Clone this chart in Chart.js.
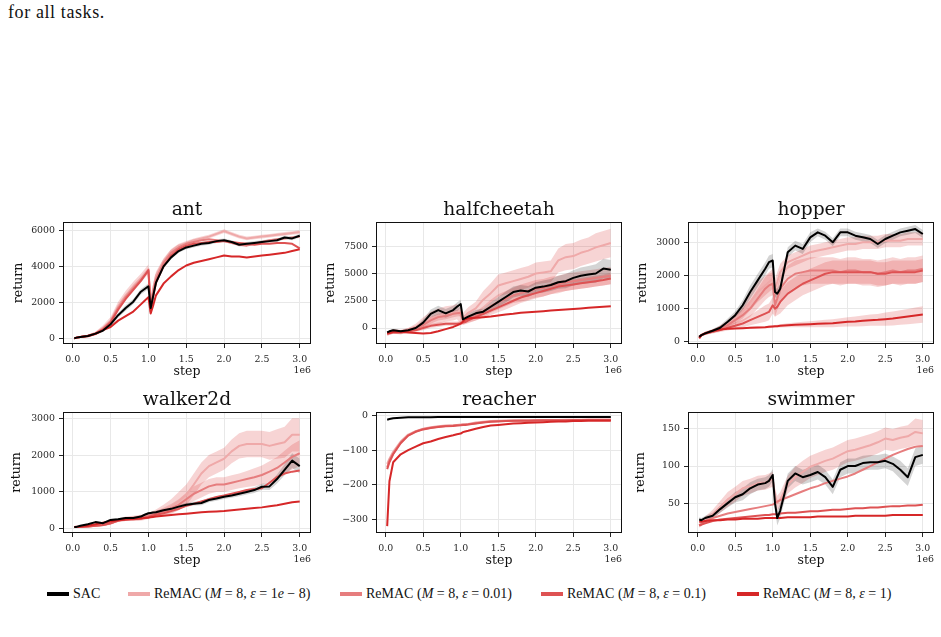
<!DOCTYPE html>
<html>
<head>
<meta charset="utf-8">
<script src="https://cdn.jsdelivr.net/npm/chart.js@4.4.0/dist/chart.umd.min.js"></script>
<style>
  body { margin: 0; background: #fff; width: 941px; height: 637px; position: relative; overflow: hidden; }
  canvas.plot { position: absolute; }
  #caption { position: absolute; left: 8px; top: 2px; font: 18px "Liberation Serif", serif; letter-spacing: 0.6px; color: #111; }
  .lg { position: absolute; top: 585px; height: 18px; display: flex; align-items: center; font: 14px "Liberation Serif", serif; color: #111; white-space: nowrap; }
  .lg .sw { display: inline-block; width: 22px; height: 4px; margin-right: 4px; }
</style>
</head>
<body>
<div id="caption">for all tasks.</div>
<canvas id="ant" class="plot"></canvas>
<canvas id="halfcheetah" class="plot"></canvas>
<canvas id="hopper" class="plot"></canvas>
<canvas id="walker2d" class="plot"></canvas>
<canvas id="reacher" class="plot"></canvas>
<canvas id="swimmer" class="plot"></canvas>
<div id="legend"></div>
<script>
// environment steps, in units of 1e6
const steps = [0.02, 0.05, 0.1, 0.2, 0.3, 0.4, 0.5, 0.6, 0.7, 0.8, 0.9, 0.95, 1.0, 1.03, 1.06,
               1.1, 1.2, 1.3, 1.4, 1.5, 1.6, 1.7, 1.8, 1.9, 2.0, 2.1, 2.2, 2.3, 2.4, 2.5,
               2.6, 2.7, 2.8, 2.9, 3.0];
const xTicks = [0, 0.5, 1.0, 1.5, 2.0, 2.5, 3.0];

const seriesLabels = ['SAC', 'ReMAC (M=8, ε=1e−8)', 'ReMAC (M=8, ε=0.01)', 'ReMAC (M=8, ε=0.1)', 'ReMAC (M=8, ε=1)'];
const legendHtml = ['SAC',
  'ReMAC (<i>M</i> = 8, <i>ε</i> = 1<i>e</i> − 8)',
  'ReMAC (<i>M</i> = 8, <i>ε</i> = 0.01)',
  'ReMAC (<i>M</i> = 8, <i>ε</i> = 0.1)',
  'ReMAC (<i>M</i> = 8, <i>ε</i> = 1)'];

// ant
const antSac    = [20, 60, 100, 150, 280, 450, 800, 1300, 1700, 2050, 2600, 2750, 2900, 1700, 2300, 3100, 4000, 4500, 4850, 5050, 5150, 5250, 5300, 5400, 5450, 5350, 5200, 5250, 5300, 5350, 5400, 5450, 5600, 5550, 5700];
const antEps1e8 = [20, 60, 100, 170, 300, 600, 1000, 1800, 2400, 2900, 3350, 3600, 3850, 2000, 2700, 3500, 4300, 4850, 5150, 5300, 5450, 5550, 5650, 5800, 5950, 5800, 5650, 5550, 5600, 5650, 5700, 5750, 5800, 5850, 5900];
const antEps001 = [20, 60, 100, 160, 290, 550, 950, 1700, 2300, 2800, 3250, 3500, 3750, 1800, 2500, 3300, 4200, 4750, 5050, 5250, 5350, 5450, 5500, 5450, 5400, 5300, 5200, 5150, 5250, 5350, 5450, 5500, 5550, 5600, 5650];
const antEps01  = [20, 60, 100, 160, 280, 500, 900, 1600, 2200, 2700, 3200, 3500, 3800, 1500, 2300, 3100, 4000, 4600, 4950, 5150, 5250, 5300, 5350, 5350, 5400, 5350, 5300, 5250, 5200, 5250, 5250, 5300, 5300, 5250, 5000];
const antEps1   = [20, 60, 100, 140, 260, 480, 650, 1000, 1250, 1500, 1900, 2100, 2300, 1400, 1800, 2400, 3050, 3450, 3800, 4050, 4200, 4300, 4400, 4500, 4600, 4550, 4550, 4500, 4550, 4600, 4650, 4700, 4750, 4850, 4950];
const antSdSac    = [20, 20, 30, 40, 60, 80, 100, 120, 150, 150, 150, 150, 150, 200, 200, 150, 120, 100, 100, 100, 100, 100, 100, 100, 100, 100, 100, 100, 100, 100, 100, 100, 100, 100, 100];
const antSdEps1e8 = [20, 20, 30, 50, 80, 150, 200, 250, 250, 250, 250, 250, 250, 300, 300, 200, 150, 120, 100, 100, 100, 100, 100, 100, 100, 100, 100, 100, 100, 100, 100, 100, 100, 100, 100];
const antTicks = [0, 2000, 4000, 6000];

// halfcheetah
const hcSac    = [-400, -300, -200, -300, -200, 0, 500, 1300, 1650, 1350, 1650, 1950, 2200, 800, 900, 1050, 1350, 1500, 1950, 2400, 2850, 3300, 3450, 3350, 3700, 3800, 3950, 4200, 4300, 4600, 4800, 4900, 5000, 5450, 5350];
const hcEps1e8 = [-500, -450, -300, -400, -200, 100, 500, 900, 1100, 1300, 1400, 1500, 1100, 900, 1100, 1400, 1800, 2600, 3200, 3900, 4100, 4300, 4500, 4700, 5000, 5100, 5200, 6200, 6500, 6600, 6900, 7100, 7400, 7600, 7800];
const hcEps001 = [-500, -450, -300, -350, -200, 0, 300, 700, 1000, 1100, 1300, 1350, 1400, 600, 700, 800, 1100, 1500, 2000, 2400, 2700, 3000, 3200, 3400, 3600, 3700, 3900, 4000, 4200, 4300, 4400, 4500, 4600, 4700, 4800];
const hcEps01  = [-500, -450, -400, -400, -300, -200, 0, 200, 300, 400, 400, 400, 450, 500, 550, 700, 1000, 1300, 1600, 1900, 2200, 2500, 2800, 3000, 3200, 3400, 3600, 3800, 3900, 4000, 4100, 4200, 4300, 4400, 4550];
const hcEps1   = [-500, -450, -350, -350, -400, -450, -500, -450, -300, -100, 100, 250, 400, 600, 800, 900, 950, 1000, 1050, 1150, 1250, 1300, 1400, 1450, 1500, 1550, 1600, 1650, 1700, 1750, 1800, 1850, 1900, 1950, 2000];
const hcSdSac    = [100, 100, 100, 100, 100, 150, 300, 400, 400, 400, 400, 400, 400, 300, 300, 300, 300, 300, 400, 450, 500, 500, 500, 500, 500, 550, 550, 600, 650, 700, 750, 800, 850, 900, 900];
const hcSdEps1e8 = [200, 200, 200, 200, 200, 300, 500, 600, 700, 700, 700, 700, 700, 500, 500, 500, 600, 800, 900, 1000, 1000, 1000, 1000, 1000, 1000, 1000, 1000, 1100, 1200, 1200, 1200, 1200, 1300, 1300, 1300];
const hcSdEps001 = [200, 200, 200, 200, 200, 200, 300, 300, 300, 300, 300, 300, 300, 300, 300, 300, 400, 500, 600, 700, 700, 700, 800, 800, 800, 800, 800, 800, 800, 800, 800, 800, 800, 800, 800];
const hcSdEps01  = [150, 150, 150, 150, 150, 150, 200, 200, 200, 200, 200, 200, 200, 200, 200, 250, 300, 350, 400, 450, 500, 500, 500, 500, 500, 500, 500, 500, 500, 500, 500, 500, 500, 500, 500];
const hcTicks = [0, 2500, 5000, 7500];

// hopper
const hopSac    = [150, 200, 250, 330, 420, 600, 800, 1100, 1500, 1850, 2200, 2400, 2450, 1500, 1450, 1600, 2700, 2900, 2800, 3150, 3300, 3200, 3000, 3300, 3300, 3200, 3150, 3100, 2950, 3100, 3200, 3300, 3350, 3400, 3250];
const hopEps1e8 = [150, 200, 250, 320, 400, 550, 700, 900, 1200, 1500, 1700, 1800, 1900, 1600, 1800, 2100, 2400, 2500, 2600, 2700, 2750, 2800, 2850, 2900, 2950, 2950, 3000, 3000, 3000, 3050, 3050, 3050, 3100, 3100, 3100];
const hopEps001 = [150, 200, 250, 320, 400, 500, 650, 800, 1000, 1300, 1600, 1700, 1750, 1100, 1300, 1600, 1900, 2050, 2100, 2150, 2150, 2150, 2150, 2100, 2150, 2150, 2100, 2100, 2050, 2100, 2150, 2100, 2150, 2150, 2200];
const hopEps01  = [130, 200, 250, 300, 350, 420, 480, 550, 650, 750, 850, 900, 1100, 1000, 1050, 1200, 1450, 1600, 1750, 1850, 1950, 2050, 2100, 2100, 2100, 2100, 2100, 2100, 2050, 2050, 2100, 2100, 2100, 2100, 2150];
const hopEps1   = [100, 200, 250, 330, 370, 390, 400, 410, 420, 430, 440, 450, 460, 465, 470, 480, 500, 510, 520, 530, 540, 550, 560, 580, 600, 610, 630, 650, 660, 680, 700, 730, 760, 790, 820];
const hopSdSac    = [40, 40, 50, 50, 80, 100, 120, 150, 200, 200, 200, 200, 200, 150, 150, 150, 150, 150, 150, 150, 120, 120, 120, 120, 120, 120, 120, 120, 120, 120, 120, 120, 120, 120, 120];
const hopSdEps1e8 = [40, 40, 50, 50, 80, 100, 150, 200, 250, 300, 300, 300, 300, 300, 300, 250, 200, 200, 200, 200, 200, 200, 200, 200, 200, 200, 200, 200, 200, 200, 200, 200, 200, 200, 200];
const hopSdEps001 = [40, 40, 50, 50, 80, 100, 150, 200, 250, 300, 350, 350, 350, 350, 350, 400, 400, 400, 400, 400, 400, 400, 400, 400, 400, 400, 400, 400, 400, 400, 400, 400, 400, 400, 400];
const hopSdEps01  = [30, 30, 40, 50, 60, 80, 100, 120, 150, 200, 250, 250, 250, 250, 250, 350, 350, 350, 350, 350, 350, 350, 350, 350, 350, 350, 350, 350, 350, 350, 350, 350, 350, 350, 350];
const hopSdEps1   = [20, 20, 20, 20, 20, 20, 20, 20, 30, 30, 30, 40, 40, 40, 40, 50, 60, 70, 80, 90, 100, 110, 120, 130, 140, 150, 160, 170, 180, 200, 210, 220, 230, 240, 250];
const hopTicks = [0, 1000, 2000, 3000];

// walker2d
const wkSac    = [50, 50, 80, 120, 180, 150, 240, 260, 290, 290, 330, 380, 420, 430, 440, 450, 500, 540, 600, 650, 680, 700, 780, 820, 870, 900, 950, 1000, 1050, 1140, 1150, 1350, 1600, 1850, 1700];
const wkEps1e8 = [50, 50, 50, 60, 80, 100, 150, 230, 270, 280, 300, 320, 350, 380, 400, 420, 500, 600, 750, 920, 1200, 1500, 1700, 1800, 1900, 2100, 2250, 2300, 2300, 2300, 2250, 2300, 2350, 2550, 2550];
const wkEps001 = [50, 50, 50, 60, 80, 100, 150, 220, 260, 280, 300, 320, 350, 370, 390, 410, 470, 550, 650, 800, 950, 1050, 1150, 1200, 1200, 1250, 1300, 1350, 1400, 1460, 1550, 1650, 1800, 1950, 2050];
const wkEps01  = [50, 50, 50, 60, 80, 100, 150, 220, 250, 260, 280, 300, 320, 340, 360, 380, 420, 480, 540, 620, 680, 740, 800, 860, 900, 950, 1000, 1050, 1080, 1100, 1250, 1400, 1500, 1550, 1580];
const wkEps1   = [50, 55, 60, 80, 120, 160, 200, 230, 250, 270, 280, 290, 300, 310, 320, 330, 350, 370, 390, 410, 430, 450, 460, 470, 480, 500, 520, 540, 560, 580, 610, 640, 680, 720, 740];
const wkSdSac    = [10, 10, 10, 20, 20, 30, 30, 30, 30, 30, 30, 30, 30, 30, 30, 40, 40, 40, 50, 50, 50, 60, 60, 60, 60, 60, 70, 70, 80, 80, 100, 120, 150, 200, 200];
const wkSdEps1e8 = [10, 10, 10, 10, 20, 30, 40, 50, 60, 70, 80, 80, 80, 80, 80, 100, 150, 200, 250, 280, 300, 300, 300, 300, 300, 320, 340, 360, 360, 360, 380, 400, 420, 450, 450];
const wkSdEps001 = [10, 10, 10, 10, 10, 20, 30, 40, 50, 60, 60, 60, 60, 60, 60, 80, 100, 120, 150, 180, 200, 200, 200, 200, 200, 200, 200, 220, 240, 260, 280, 300, 320, 340, 350];
const wkTicks = [0, 1000, 2000, 3000];

// reacher
const rcSac    = [-12, -10, -8, -6, -5, -5, -5, -5, -4, -4, -4, -4, -4, -4, -4, -4, -4, -4, -4, -4, -4, -4, -4, -4, -4, -4, -4, -4, -4, -4, -4, -4, -4, -4, -4];
const rcEps1e8 = [-140, -125, -105, -75, -55, -45, -38, -34, -31, -29, -28, -27, -26, -26, -25, -24, -20, -18, -16, -15, -15, -14, -14, -14, -13, -13, -13, -13, -12, -12, -12, -12, -12, -12, -12];
const rcEps001 = [-150, -130, -110, -78, -57, -46, -39, -35, -32, -30, -29, -28, -27, -26, -26, -25, -22, -19, -17, -16, -15, -15, -14, -14, -14, -13, -13, -13, -13, -13, -13, -12, -12, -12, -12];
const rcEps01  = [-155, -135, -112, -80, -58, -47, -40, -36, -33, -31, -30, -29, -28, -27, -27, -26, -23, -20, -18, -17, -16, -15, -15, -15, -14, -14, -14, -14, -14, -13, -13, -13, -13, -13, -13];
const rcEps1   = [-320, -190, -135, -112, -100, -90, -80, -75, -68, -62, -57, -54, -52, -48, -46, -44, -38, -33, -29, -27, -25, -23, -22, -21, -20, -19, -18, -17, -17, -16, -16, -15, -15, -15, -15];
const rcTicks = [-300, -200, -100, 0];

// swimmer
const swSac    = [28, 27, 30, 33, 42, 50, 58, 62, 70, 75, 77, 80, 88, 50, 30, 40, 80, 90, 85, 88, 92, 85, 72, 95, 100, 100, 104, 105, 105, 107, 103, 95, 85, 112, 115];
const swEps1e8 = [20, 22, 28, 35, 45, 55, 62, 70, 73, 77, 78, 80, 82, 60, 50, 55, 75, 85, 92, 99, 103, 107, 110, 115, 120, 122, 125, 128, 132, 137, 135, 138, 140, 146, 144];
const swEps001 = [20, 22, 26, 30, 33, 36, 38, 40, 42, 44, 46, 47, 48, 50, 52, 54, 58, 62, 66, 70, 73, 77, 80, 83, 86, 90, 95, 100, 105, 110, 115, 119, 123, 126, 127];
const swEps01  = [20, 21, 23, 26, 28, 29, 30, 31, 32, 33, 34, 34, 35, 35, 35, 36, 37, 37, 38, 39, 39, 40, 41, 41, 42, 43, 43, 44, 44, 45, 46, 46, 47, 47, 48];
const swEps1   = [25, 25, 26, 27, 27, 28, 28, 29, 29, 29, 30, 30, 30, 30, 30, 30, 31, 31, 31, 31, 32, 32, 32, 32, 32, 33, 33, 33, 33, 33, 34, 34, 34, 34, 34];
const swSdSac    = [3, 3, 3, 4, 5, 6, 7, 8, 8, 8, 8, 8, 8, 10, 10, 10, 10, 10, 10, 10, 10, 10, 10, 10, 10, 10, 10, 10, 10, 10, 10, 12, 12, 12, 12];
const swSdEps1e8 = [3, 3, 4, 6, 8, 10, 10, 10, 10, 10, 10, 10, 10, 10, 10, 10, 12, 14, 15, 15, 15, 15, 15, 15, 15, 15, 15, 15, 15, 15, 15, 15, 15, 18, 18];
const swTicks = [50, 100, 150];

// styles
const lineColors = ['#000000', '#efa9a9', '#e67d7e', '#de5253', '#d62728'];
const bandColors = ['rgba(0,0,0,0.17)', 'rgba(214,39,40,0.2)', 'rgba(214,39,40,0.2)', 'rgba(214,39,40,0.2)', 'rgba(214,39,40,0.2)'];
const serif = "'DejaVu Serif', serif";

const cols = [
  {left: 0, width: 318, plotLeft: 63, plotRight: 311},
  {left: 318, width: 312, plotLeft: 376, plotRight: 622},
  {left: 630, width: 311, plotLeft: 688, plotRight: 934}
];
const rows = [
  {top: 190, height: 195, titleY: 210, plotTop: 222, plotBottom: 344, labelY: 372},
  {top: 385, height: 190, titleY: 400, plotTop: 412, plotBottom: 533, labelY: 561}
];

const tasks = [
  {id: 'ant', series: [antSac, antEps1e8, antEps001, antEps01, antEps1], sd: [antSdSac, antSdEps1e8, null, null, null],
   yMin: -293, yMax: 6458, yTicks: antTicks, col: 0, row: 0, ylabelX: 19},
  {id: 'halfcheetah', series: [hcSac, hcEps1e8, hcEps001, hcEps01, hcEps1], sd: [hcSdSac, hcSdEps1e8, hcSdEps001, hcSdEps01, null],
   yMin: -1464, yMax: 9725, yTicks: hcTicks, col: 1, row: 0, ylabelX: 331},
  {id: 'hopper', series: [hopSac, hopEps1e8, hopEps001, hopEps01, hopEps1], sd: [hopSdSac, hopSdEps1e8, hopSdEps001, hopSdEps01, hopSdEps1],
   yMin: -69, yMax: 3613, yTicks: hopTicks, col: 2, row: 0, ylabelX: 643},
  {id: 'walker2d', series: [wkSac, wkEps1e8, wkEps001, wkEps01, wkEps1], sd: [wkSdSac, wkSdEps1e8, wkSdEps001, null, null],
   yMin: -116, yMax: 3170, yTicks: wkTicks, col: 0, row: 1, ylabelX: 17},
  {id: 'reacher', series: [rcSac, rcEps1e8, rcEps001, rcEps01, rcEps1], sd: [null, null, null, null, null],
   yMin: -340, yMax: 10.4, yTicks: rcTicks, col: 1, row: 1, ylabelX: 330},
  {id: 'swimmer', series: [swSac, swEps1e8, swEps001, swEps01, swEps1], sd: [swSdSac, swSdEps1e8, null, null, null],
   yMin: 9.8, yMax: 172.8, yTicks: swTicks, col: 2, row: 1, ylabelX: 641}
];

const titleSize = 18.7, labelSize = 12.5, tickSize = 9.4;

// black frame round the axes, the plot title centred on the axes and the 1e6 offset text
const framePlugin = {
  id: 'frame',
  afterDatasetsDraw(chart, args, opts) {
    const {ctx, chartArea: a} = chart;
    ctx.save();
    ctx.strokeStyle = '#111';
    ctx.lineWidth = 1;
    ctx.strokeRect(Math.round(a.left) + 0.5, Math.round(a.top) + 0.5,
                   Math.round(a.right - a.left) - 1, Math.round(a.bottom - a.top) - 1);
    ctx.fillStyle = '#111';
    ctx.textAlign = 'center';
    ctx.textBaseline = 'middle';
    ctx.font = titleSize + "px 'DejaVu Serif'";
    ctx.fillText(opts.title, (a.left + a.right) / 2, opts.titleY);
    ctx.font = tickSize + "px 'DejaVu Serif'";
    ctx.fillStyle = '#262626';
    ctx.textAlign = 'right';
    ctx.fillText('1e6', a.right, a.bottom + 26.5);
    ctx.restore();
  }
};

function points(vals, sd, sign) {
  return steps.map((s, i) => ({x: s, y: vals[i] + (sd ? sign * sd[i] : 0)}));
}

function buildDatasets(t) {
  const ds = [];
  t.series.forEach((vals, k) => {
    const sd = t.sd[k];
    if (!sd) return;
    ds.push({data: points(vals, sd, 1), fill: '+1', backgroundColor: bandColors[k], borderWidth: 0, pointRadius: 0, order: 10 + k});
    ds.push({data: points(vals, sd, -1), fill: false, borderWidth: 0, pointRadius: 0, order: 10 + k});
  });
  t.series.forEach((vals, k) => {
    ds.push({label: seriesLabels[k], data: points(vals), borderColor: lineColors[k], borderWidth: 2,
             pointRadius: 0, fill: false, borderJoinStyle: 'round', order: k === 0 ? 0 : 5 - k});
  });
  return ds;
}

tasks.forEach(t => {
  const c = cols[t.col], r = rows[t.row];
  const canvas = document.getElementById(t.id);
  canvas.width = c.width;
  canvas.height = r.height;
  canvas.style.left = c.left + 'px';
  canvas.style.top = r.top + 'px';

  const padLeft = t.ylabelX - c.left - labelSize * 0.6;
  const yWidth = c.plotLeft - c.left - padLeft;
  const xHeight = r.top + r.height - r.plotBottom;
  const xTitleGap = r.top + r.height - r.labelY - labelSize * 0.6;

  new Chart(canvas, {
    type: 'line',
    data: {datasets: buildDatasets(t)},
    options: {
      responsive: false,
      animation: false,
      devicePixelRatio: 1,
      layout: {padding: {left: padLeft, right: c.left + c.width - c.plotRight, top: r.plotTop - r.top, bottom: 0}},
      plugins: {
        legend: {display: false},
        tooltip: {enabled: false},
        frame: {title: t.id, titleY: r.titleY - r.top}
      },
      scales: {
        x: {
          type: 'linear', min: -0.129, max: 3.149,
          afterBuildTicks: s => { s.ticks = xTicks.map(v => ({value: v})); },
          afterFit: s => { s.height = xHeight; },
          ticks: {callback: v => v.toFixed(1), font: {family: serif, size: tickSize}, color: '#262626',
                  padding: 6, maxRotation: 0, autoSkip: false},
          grid: {color: '#e8e8e8', lineWidth: 1, tickColor: '#262626', tickLength: 4},
          border: {display: false},
          title: {display: true, text: 'step', color: '#111',
                  font: {family: serif, size: labelSize, lineHeight: 1.2}, padding: {top: 0, bottom: xTitleGap}}
        },
        y: {
          type: 'linear', min: t.yMin, max: t.yMax,
          afterBuildTicks: s => { s.ticks = t.yTicks.map(v => ({value: v})); },
          afterFit: s => { s.width = yWidth; },
          ticks: {callback: v => v < 0 ? '\u2212' + (-v) : String(v), font: {family: serif, size: tickSize},
                  color: '#262626', padding: 4, autoSkip: false},
          grid: {color: '#e8e8e8', lineWidth: 1, tickColor: '#262626', tickLength: 4},
          border: {display: false},
          title: {display: true, text: 'return', color: '#111',
                  font: {family: serif, size: labelSize, lineHeight: 1.2}, padding: {top: 0, bottom: 0}}
        }
      }
    },
    plugins: [framePlugin]
  });
});

// legend under the grid of plots
const legendX = [47, 128, 340, 541, 737];
const legend = document.getElementById('legend');
legendHtml.forEach((html, k) => {
  const item = document.createElement('div');
  item.className = 'lg';
  item.style.left = legendX[k] + 'px';
  item.innerHTML = `<span class="sw" style="background:${lineColors[k]}"></span><span>${html}</span>`;
  legend.appendChild(item);
});
</script>
</body>
</html>
